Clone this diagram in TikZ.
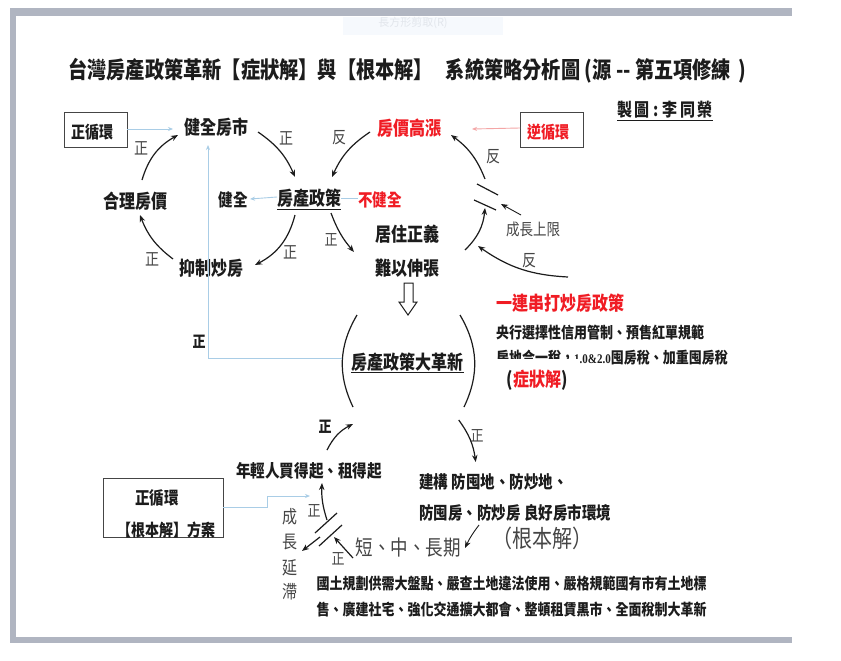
\documentclass[tikz,border=0pt]{standalone}
\usepackage{fontspec}
\usetikzlibrary{arrows.meta}
\setmainfont{Noto Sans CJK TC}
\newfontfamily\latinserif{Liberation Serif}
\definecolor{framegray}{HTML}{B0B5C1}
\definecolor{linkblue}{HTML}{A9CDE6}
\definecolor{linkpink}{HTML}{F4A6A6}
\definecolor{ink}{HTML}{1C1C1C}
\definecolor{softink}{HTML}{454545}
\definecolor{hotred}{HTML}{F01C24}
\definecolor{toolbg}{HTML}{F6F9FD}
\definecolor{tooltx}{HTML}{E2E6EC}
\tikzset{
  txt/.style={inner sep=0pt,text=ink,yscale=1.2,transform shape,font=\bfseries\fontsize{#1}{#1}\selectfont},
  thin txt/.style={inner sep=0pt,text=softink,yscale=1.2,transform shape,font=\fontsize{#1}{#1}\selectfont},
  red txt/.style={inner sep=0pt,text=hotred,yscale=1.2,transform shape,font=\bfseries\fontsize{#1}{#1}\selectfont},
  boxed/.style={draw=softink,line width=0.8pt,fill=white},
  flow/.style={draw=ink,line width=1.2pt,-{Stealth[length=7pt,width=5.5pt]}},
  plain/.style={draw=ink,line width=1.2pt},
  bluelink/.style={draw=linkblue,line width=0.9pt,-{Stealth[length=5pt,width=4pt]}},
  pinklink/.style={draw=linkpink,line width=0.9pt,-{Stealth[length=5pt,width=4pt]}},
}
\begin{document}
\begin{tikzpicture}[x=1pt,y=-1pt]
\useasboundingbox (0,0) rectangle (841,661);
\fill[white] (0,0) rectangle (841,661);
% frame
\fill[framegray] (10,8) rectangle (792,16);
\fill[framegray] (10,8) rectangle (16,643);
\fill[framegray] (10,637) rectangle (792,643);
% toolbar ghost
\fill[toolbg] (343,17) rectangle (503,35);
\node[inner sep=0pt,text=tooltx,font=\fontsize{11}{11}\selectfont] (tool) at (413,23) {長方形剪取(R)};
% title
\node[txt=19.2,anchor=west] (title) at (68,71) {台灣房產政策革新【症狀解】與【根本解】\hspace{13pt}系統策略分析圖 (源 {-}{-} 第五項修練 \,)};
\node[txt=15,anchor=west] (author) at (617,110) {製\,圖 : 李\,同\,榮};
\draw[plain,line width=0.9pt] ([shift={(0,10)}]author.west) -- ([shift={(0,10)}]author.east);
% boxes
\draw[boxed] (64,112) rectangle (127,147);
\node[txt=14] (zxh) at (92,132) {正循環};
\draw[boxed] (520,112) rectangle (583,147);
\node[red txt=14] (nxh) at (548,132) {逆循環};
\draw[boxed] (103,478) rectangle (223,537);
\node[txt=14.5] (zxh2) at (157,498) {正循環};
\node[txt=14] (gbf) at (166,530) {【根本解】方案};
% upper nodes
\node[txt=16] (jq) at (216,127) {健全房市};
\node[txt=16] (hl) at (135,201) {合理房價};
\node[txt=14.5] (jian) at (233,200) {健全};
\node[txt=16] (zc) at (309,198) {房產政策};
\draw[plain,line width=0.9pt] ([shift={(-32,11)}]zc.center) -- ([shift={(32,11)}]zc.center);
\node[red txt=14.5] (bujian) at (380,200) {不健全};
\node[txt=16] (yz) at (211,268) {抑制炒房};
\node[red txt=16] (gz) at (409,128) {房價高漲};
\node[txt=16] (jz1) at (407,234) {居住正義};
\node[txt=16] (jz2) at (407,268) {難以伸張};
\node[thin txt=13.5] (sx) at (533,229) {成長上限};
% hollow arrow
\draw[draw=ink,fill=white,line width=1pt,line join=miter] ([shift={(-3,15)}]jz2.center) -- ([shift={(6,15)}]jz2.center) -- ([shift={(6,34)}]jz2.center) -- ([shift={(10,34)}]jz2.center) -- ([shift={(1,47)}]jz2.center) -- ([shift={(-8,34)}]jz2.center) -- ([shift={(-3,34)}]jz2.center) -- cycle;
% right text
\node[red txt=16,anchor=west] (ylc) at (496,303) {一連串打炒房政策};
\node[txt=13,anchor=west] (yh) at (496,333) {央行選擇性信用管制、預售紅單規範};
\node[txt=13,anchor=west] (fd) at (496,358) {房地合一稅，{\latinserif\fontsize{11}{11}\selectfont 1.0\&2.0}囤房稅、加重囤房稅};
\fill[white] (495,359) rectangle (580,369);
\fill[white] (495,348) rectangle (497,369);
\node[txt=16] (zzj) at (537,380) {(\textcolor{hotred}{症狀解})};
% centre
\node[txt=16] (dg) at (407,362) {房產政策大革新};
\draw[plain,line width=0.9pt] ([shift={(-56,10)}]dg.center) -- ([shift={(57,10)}]dg.center);
\draw[plain] ([shift={(-50,-47)}]dg.center) to[bend right=28] ([shift={(-54,45)}]dg.center);
\draw[plain] ([shift={(53,-47)}]dg.center) to[bend left=28] ([shift={(57,45)}]dg.center);
% lower
\node[txt=14.6] (nq) at (309,471) {年輕人買得起、租得起};
\node[txt=14.5,anchor=west] (jg) at (419,482) {建構 防囤地、防炒地、};
\node[txt=14.5,anchor=west] (ff) at (419,513) {防囤房、防炒房 良好房市環境};
\node[thin txt=20] (gbj) at (542,538) {（根本解）};
\node[thin txt=17.5] (dzc) at (408,548) {短、中、長期};
\node[txt=13] (gt) at (511.500,584) {國土規劃供需大盤點、嚴查土地違法使用、嚴格規範國有市有土地標};
\node[txt=13] (sg) at (511.500,610) {售、廣建社宅、強化交通擴大都會、整頓租賃黑市、全面稅制大革新};
\node[thin txt=15] (c1) at (290,517) {成};
\node[thin txt=15] (c2) at (290,542) {長};
\node[thin txt=15] (c3) at (290,568) {延};
\node[thin txt=15] (c4) at (290,592) {滯};
% polarity labels
\node[thin txt=14] (z1) at (141,148) {正};
\node[thin txt=14] (z2) at (286,138) {正};
\node[thin txt=14] (z3) at (290,252) {正};
\node[thin txt=14] (z4) at (152,259) {正};
\node[thin txt=13] (z5) at (331,240) {正};
\node[txt=13] (z6) at (199,342) {正};
\node[txt=13] (z7) at (325,427) {正};
\node[thin txt=13] (z8) at (477,436) {正};
\node[thin txt=13] (z9) at (314,511) {正};
\node[thin txt=13] (z10) at (338,559) {正};
\node[thin txt=14] (f1) at (339,138) {反};
\node[thin txt=14] (f2) at (493,157) {反};
\node[thin txt=14] (f3) at (529,261) {反};
% main loop
\draw[flow] ([shift={(42,5)}]jq.center) to[bend left=16] ([shift={(-14,-21)}]zc.center);
\draw[flow] ([shift={(-39,4)}]gz.center) to[bend right=16] ([shift={(23,-21)}]zc.center);
\draw[flow] ([shift={(7,-21)}]hl.center) to[bend left=22] ([shift={(-38,8)}]jq.center);
\draw[flow] ([shift={(-38,-9)}]yz.center) to[bend left=16] ([shift={(5,14)}]hl.center);
\draw[flow] ([shift={(-14,17)}]zc.center) to[bend left=24] ([shift={(44,-3)}]yz.center);
\draw[flow] ([shift={(22,15)}]zc.center) to[bend right=10] ([shift={(-53,18)}]jz1.center);
% right limit loop
\draw[flow] ([shift={(58,-18)}]jz2.center) to[bend right=20] ([shift={(-48,-21)}]sx.center);
\draw[flow] ([shift={(-48,-50)}]sx.center) to[bend right=16] ([shift={(42,7)}]gz.center);
\draw[plain] ([shift={(-56,-45)}]sx.center) -- ([shift={(-35,-34)}]sx.center);
\draw[plain] ([shift={(-59,-29)}]sx.center) -- ([shift={(-37,-19)}]sx.center);
\draw[flow,line width=0.9pt] ([shift={(-12,-14)}]sx.center) -- ([shift={(-32,-25)}]sx.center);
\draw[flow] ([shift={(72,-26)}]ylc.west) to[bend left=16] ([shift={(-18,-57)}]ylc.west);
% blue and pink links
\draw[bluelink] ([shift={(35,-3)}]zxh.center) -- ([shift={(-43,2)}]jq.center);
\draw[bluelink] ([shift={(-65,-4)}]dg.center) -| ([shift={(-8,18)}]jq.center);
\draw[bluelink] ([shift={(-32,-1)}]zc.center) -- ([shift={(17,-1)}]jian.center);
\draw[draw=linkblue,line width=0.9pt] ([shift={(32,0)}]zc.center) -- ([shift={(-22,-2)}]bujian.center);
\draw[pinklink] ([shift={(-28,-4)}]nxh.center) -- ([shift={(63,1)}]gz.center);
\draw[bluelink] ([shift={(57,-23)}]gbf.center) -- ([shift={(101,-23)}]gbf.center) -- ([shift={(101,-34)}]gbf.center) -- ([shift={(1,25)}]nq.center);
% lower arrows
\draw[flow] ([shift={(18,-21)}]nq.center) to[bend left=18] ([shift={(-54,62)}]dg.center);
\draw[flow] ([shift={(-109,-62)}]jg.east) to[bend left=14] ([shift={(-92,-20)}]jg.east);
\draw[plain] ([shift={(28,42)}]nq.center) -- ([shift={(6,62)}]nq.center);
\draw[plain] ([shift={(33,54)}]nq.center) -- ([shift={(10,75)}]nq.center);
\draw[flow] ([shift={(18,49)}]nq.center) to[bend left=10] ([shift={(13,12)}]nq.center);
\draw[flow] ([shift={(11,66)}]nq.center) -- ([shift={(-7,80)}]nq.center);
\draw[flow] ([shift={(-55,10)}]dzc.center) -- ([shift={(-74,-11)}]dzc.center);
\draw[flow,line width=0.9pt] ([shift={(71,-23)}]dzc.center) to[bend right=6] ([shift={(57,0)}]dzc.center);
\end{tikzpicture}
\end{document}
